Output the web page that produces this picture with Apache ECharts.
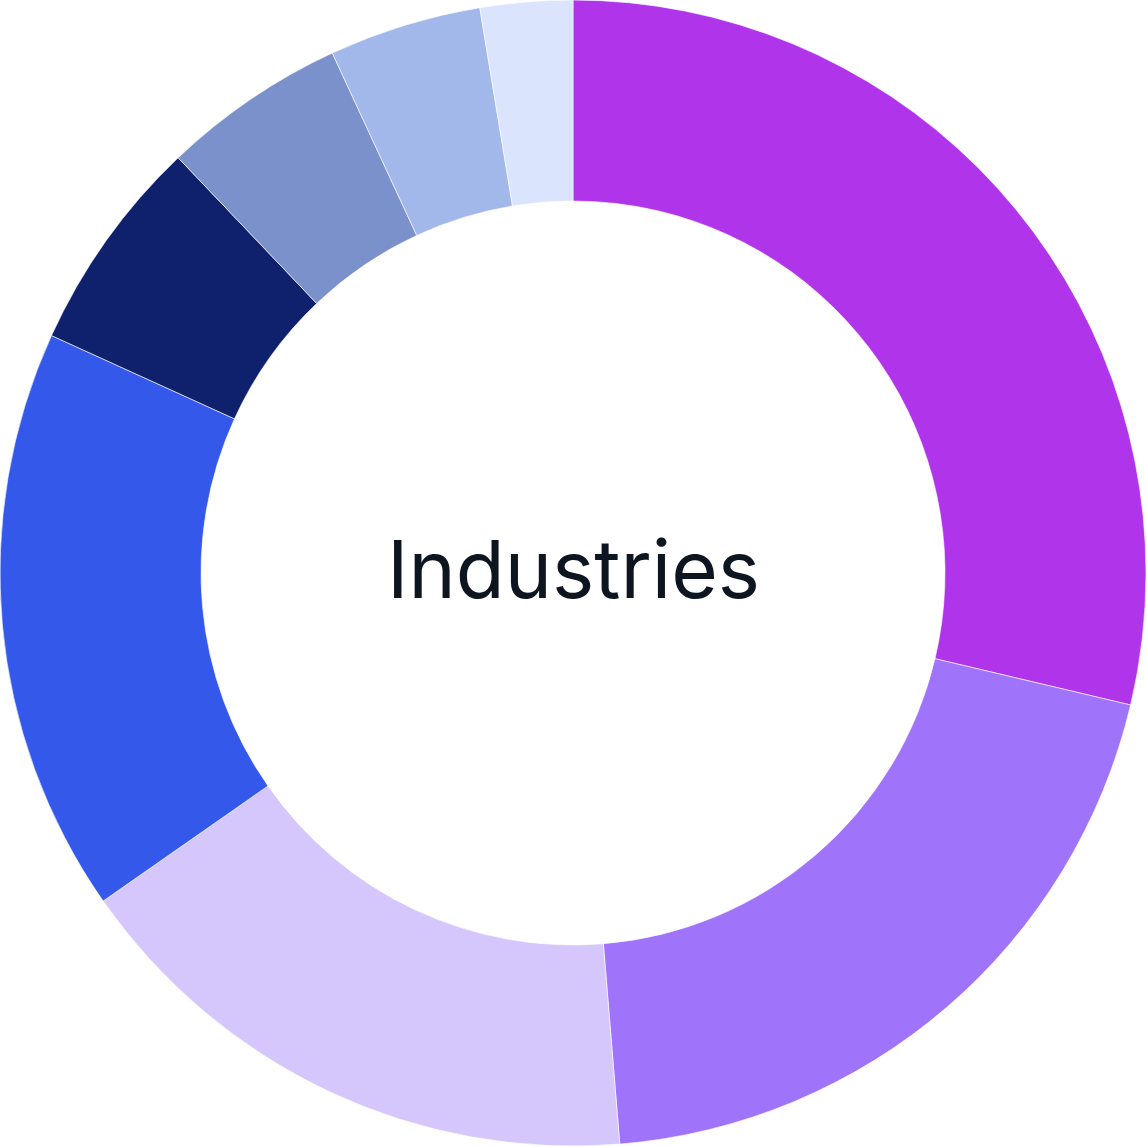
<!DOCTYPE html>
<html>
<head>
<meta charset="utf-8">
<script src="https://cdn.jsdelivr.net/npm/echarts@6/dist/echarts.min.js"></script>
<style>
html,body{margin:0;padding:0;background:#fff;}
#chart{width:1147px;height:1147px;}
</style>
</head>
<body>
<div id="chart"></div>
<script>
const categories = ['Industry A','Industry B','Industry C','Industry D','Industry E','Industry F','Industry G','Industry H'];
const values = [28.7, 20.0, 16.6, 16.5, 6.1, 5.2, 4.3, 2.6];
const colors = ['#B035EA','#A073FB','#D5C6FC','#3358EA','#0F216C','#7A91CB','#A3B8EA','#DAE5FD'];
const centerTitle = 'Industries';

const chart = echarts.init(document.getElementById('chart'));
chart.setOption({
  animation: false,
  title: {
    text: centerTitle,
    left: 'center',
    top: 'middle',
    textStyle: { fontFamily: 'Inter', fontSize: 80, fontWeight: 'normal', color: '#0D1520' }
  },
  series: [{
    type: 'pie',
    center: [573, 573],
    radius: [372, 573],
    startAngle: 90,
    clockwise: true,
    label: { show: false },
    labelLine: { show: false },
    emphasis: { disabled: true },
    itemStyle: { borderColor: '#ffffff', borderWidth: 0.6 },
    data: categories.map((c, i) => ({ name: c, value: values[i], itemStyle: { color: colors[i] } }))
  }]
});
</script>
</body>
</html>
